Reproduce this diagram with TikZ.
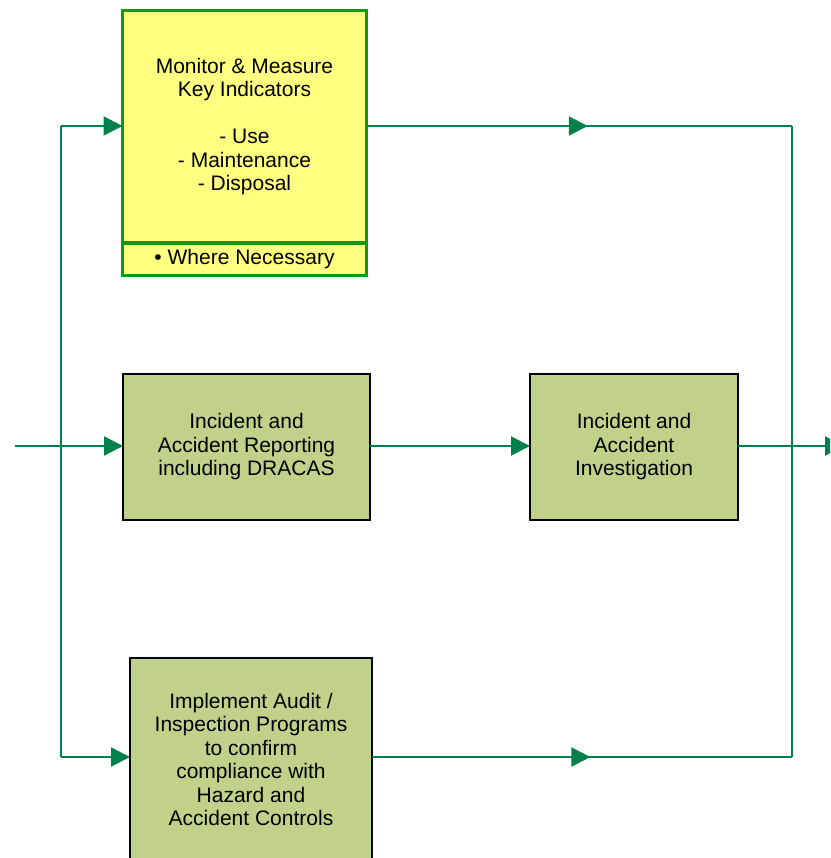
\documentclass[tikz,border=0pt]{standalone}
\usepackage{fontspec}
\setmainfont{Liberation Sans}
\usepackage{xcolor}
\usetikzlibrary{arrows.meta,positioning,decorations.markings}

\definecolor{flowgreen}{HTML}{00804A}
\definecolor{kpiedge}{HTML}{119A11}
\definecolor{kpifill}{HTML}{FFFF80}
\definecolor{stagefill}{HTML}{C0D18A}

\begin{document}
\begin{tikzpicture}[x=1pt, y=-1pt,
  stage/.style={draw=black, line width=1.5pt, fill=stagefill, outer sep=0pt,
                align=center, inner sep=0pt,
                font=\fontsize{21}{23.5}\selectfont},
  kpi/.style={draw=kpiedge, line width=3.2pt, fill=kpifill, outer sep=0pt,
              minimum width=244pt, align=center, inner sep=0pt,
              font=\fontsize{21}{23.5}\selectfont},
  flow/.style={flowgreen, line width=2pt},
  mid/.style={postaction={decorate},
              decoration={markings, mark=at position #1 with {\arrow{>}}}},
  >={Triangle[length=19pt, width=19pt]}
]
\clip (0,0) rectangle (830,858);
\fill[white] (0,0) rectangle (830,858);

% boxes
\node[kpi, minimum height=232.5pt] (mon) at (244.5,126.75)
  {Monitor \& Measure\\Key Indicators\\[23.5pt]- Use\\- Maintenance\\- Disposal};
\node[kpi, minimum height=32.5pt, below=0pt of mon] (where) {\textbullet\ Where Necessary};
\node[stage, minimum width=247pt, minimum height=146pt] (rep) at (246.5,447)
  {Incident and\\Accident Reporting\\including DRACAS};
\node[stage, minimum width=208pt, minimum height=146pt] (inv) at (634,447)
  {Incident and\\Accident\\Investigation};
\node[stage, minimum width=242pt, minimum height=203pt] (aud) at (251,759.5)
  {Implement Audit /\\Inspection Programs\\to confirm\\compliance with\\Hazard and\\Accident Controls};

% ends and corners
\coordinate (in)   at (15,446);
\coordinate (out)  at (844,446);
\coordinate (top)  at (61,126);
\coordinate (bot)  at (61,757);
\coordinate (rtop) at (792,126);
\coordinate (rbot) at (792,757);

% connectors
\draw[flow] (top) -- (bot);
\draw[flow, ->] (top) -- (top -| mon.west);
\draw[flow, ->] (bot) -- (bot -| aud.west);
\draw[flow, ->] (in) -- (in -| rep.west);
\draw[flow, mid=0.52] (top -| mon.east) -- (rtop);
\draw[flow] (rtop) -- (rbot);
\draw[flow, mid=0.52] (bot -| aud.east) -- (rbot);
\draw[flow, ->] (in -| rep.east) -- (in -| inv.west);
\draw[flow, ->] (in -| inv.east) -- (out);
\end{tikzpicture}
\end{document}
